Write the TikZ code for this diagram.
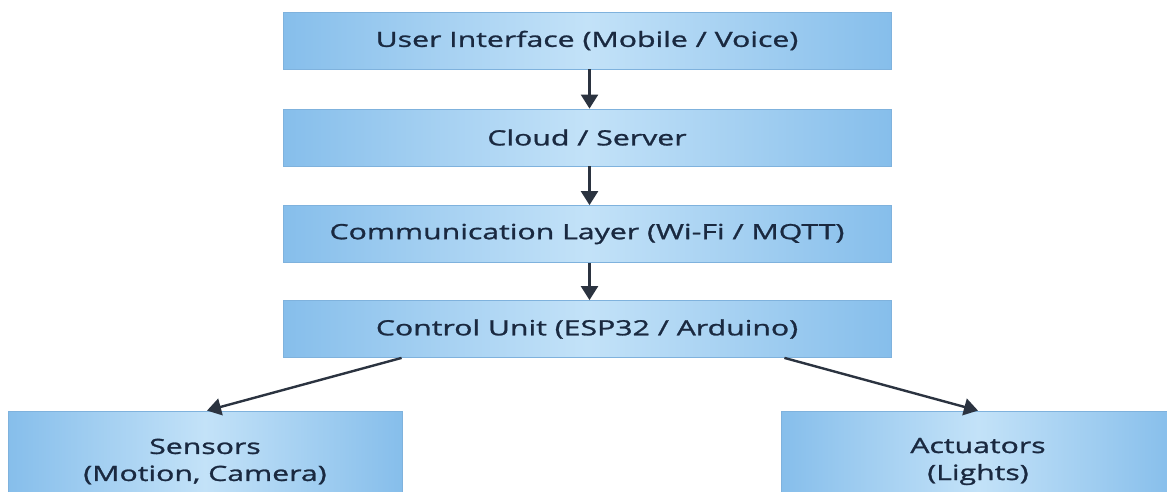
\documentclass[tikz,border=0pt]{standalone}
\usepackage{fontspec}
\newfontfamily\labfont{Open Sans}[FakeStretch=1.44,FakeBold=1.2]
\usetikzlibrary{arrows.meta}
\definecolor{edgeblue}{HTML}{86BEEB}
\definecolor{midblue}{HTML}{C3E2F8}
\definecolor{bordblue}{HTML}{7FB2DD}
\definecolor{txtnavy}{HTML}{1A2940}
\definecolor{arrdark}{HTML}{2B3340}
\tikzset{
  labtext/.style={font=\labfont\fontsize{21}{27}\selectfont, text=txtnavy, align=center},
  layerbox/.style={draw=bordblue, line width=0.8pt, left color=edgeblue, right color=edgeblue, middle color=midblue,
    minimum width=608pt, minimum height=57pt, inner sep=0pt, labtext},
  leafbox/.style={layerbox, minimum width=394pt, minimum height=100pt},
  arr/.style={draw=arrdark, line width=2.4pt, -{Triangle[width=17pt,length=14pt]}}
}
\begin{document}
\begin{tikzpicture}[x=1pt,y=-1pt]
\useasboundingbox (0,0) rectangle (1167,491);
\clip (0,0) rectangle (1167,491);
\fill[white] (0,0) rectangle (1167,491);
\node[layerbox] (ui)   at (587,40.5) {User Interface (Mobile / Voice)};
\node[layerbox] (cloud) at (587,137.5) {Cloud / Server};
\node[layerbox] (comm) at (587,234) {Communication Layer (Wi-Fi / MQTT)};
\node[layerbox] (ctrl) at (587,329) {Control Unit (ESP32 / Arduino)};
\node[leafbox] (sens) at (205,461) {};
\node[leafbox] (act) at (978,461) {};
\node[labtext] (senst) at (205,461.5) {Sensors\\(Motion, Camera)};
\node[labtext] (actt) at (978,461.5) {Actuators\\(Lights)};
\draw[arr] ([xshift=2.5pt]ui.south) -- ([xshift=2.5pt]cloud.north);
\draw[arr] ([xshift=2.5pt]cloud.south) -- ([xshift=2.5pt]comm.north);
\draw[arr] ([xshift=2.5pt]comm.south) -- ([xshift=2.5pt]ctrl.north);
\draw[arr] ([xshift=119pt]ctrl.south west) -- ([xshift=2pt]sens.north);
\draw[arr] ([xshift=-107pt]ctrl.south east) -- (act.north);
\end{tikzpicture}
\end{document}
